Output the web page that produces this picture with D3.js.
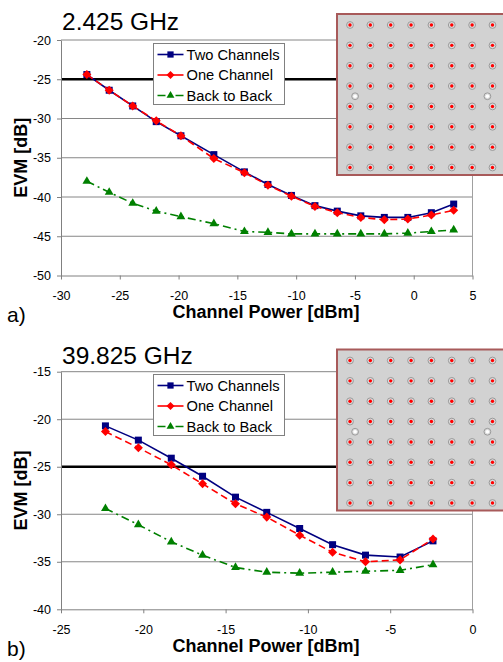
<!DOCTYPE html>
<html>
<head>
<meta charset="utf-8">
<script src="https://cdn.jsdelivr.net/npm/d3@7"></script>
<style>
  body { margin: 0; background: #fff; }
  text { font-family: "Liberation Sans", Arial, sans-serif; }
</style>
</head>
<body>
<script>
// ---- data ----
const seriesNames = ["Two Channels", "One Channel", "Back to Back"];

// a) 2.425 GHz
const powerA  = [-27.8, -25.9, -23.9, -21.9, -19.8, -17.0, -14.4, -12.4, -10.4, -8.4, -6.5, -4.5, -2.5, -0.5, 1.5, 3.4];
const twoChA  = [-24.4, -26.4, -28.4, -30.4, -32.2, -34.6, -36.8, -38.4, -39.8, -41.1, -41.8, -42.4, -42.6, -42.6, -42.0, -40.9];
const oneChA  = [-24.4, -26.4, -28.4, -30.3, -32.2, -35.1, -36.9, -38.5, -39.9, -41.2, -42.0, -42.6, -42.9, -42.8, -42.3, -41.7];
const b2bA    = [-38.0, -39.4, -40.8, -41.8, -42.5, -43.4, -44.4, -44.5, -44.7, -44.7, -44.7, -44.7, -44.7, -44.6, -44.4, -44.2];
const xTicksA = [-30, -25, -20, -15, -10, -5, 0, 5];
const yTicksA = [-50, -45, -40, -35, -30, -25, -20];

// b) 39.825 GHz
const powerB  = [-22.3, -20.3, -18.3, -16.4, -14.4, -12.5, -10.5, -8.5, -6.5, -4.4, -2.4];
const twoChB  = [-20.7, -22.2, -24.1, -26.0, -28.2, -29.8, -31.5, -33.2, -34.3, -34.5, -32.8];
const oneChB  = [-21.3, -23.0, -24.8, -26.8, -28.9, -30.3, -32.2, -34.0, -35.0, -34.8, -32.6];
const b2bB    = [-29.4, -31.1, -32.9, -34.3, -35.6, -36.1, -36.2, -36.1, -36.0, -35.9, -35.3];
const xTicksB = [-25, -20, -15, -10, -5, 0];
const yTicksB = [-40, -35, -30, -25, -20, -15];

const evmLimit = -25;

// 64-QAM constellation inset + pilots
const qamLevels = [-7, -5, -3, -1, 1, 3, 5, 7];
const pilots = [[-6.5, 0], [6.5, 0]];

// ---- drawing ----
const W = 503, H = 662;
const svg = d3.select("body").append("svg")
    .attr("width", W).attr("height", H);

const styles = [
    { color: "#000080", dash: null,      symbol: d3.symbolSquare,   size: 49 },
    { color: "#ff0000", dash: "7,4",     symbol: d3.symbolDiamond2, size: 52 },
    { color: "#008000", dash: "8,4,2,4", symbol: d3.symbolTriangle, size: 34 }
];

function drawPanel(p) {
    const g = svg.append("g");
    const x = d3.scaleLinear().domain(d3.extent(p.xTicks)).range([61, 472.5]);
    const y = d3.scaleLinear().domain(d3.extent(p.yTicks)).range([p.yBottom, p.yTop]);

    // grid
    g.selectAll(".grid").data(p.yTicks.slice(1)).enter().append("line")
        .attr("x1", x.range()[0]).attr("x2", x.range()[1])
        .attr("y1", d => y(d)).attr("y2", d => y(d))
        .attr("stroke", "#868686").attr("stroke-width", 1);
    g.append("line")
        .attr("x1", x.range()[1]).attr("x2", x.range()[1])
        .attr("y1", p.yTop).attr("y2", p.yBottom)
        .attr("stroke", "#a0a0a0");

    // EVM limit
    g.append("line")
        .attr("x1", x.range()[0]).attr("x2", x.range()[1])
        .attr("y1", y(evmLimit)).attr("y2", y(evmLimit))
        .attr("stroke", "#000").attr("stroke-width", 2.5);

    // axes
    const ax = g.append("g").attr("transform", "translate(0," + p.yBottom + ")")
        .call(d3.axisBottom(x).tickValues(p.xTicks).tickFormat(String).tickSize(4).tickPadding(12).tickSizeOuter(0));
    const ay = g.append("g").attr("transform", "translate(61,0)")
        .call(d3.axisLeft(y).tickValues(p.yTicks).tickFormat(String).tickSize(4).tickPadding(6).tickSizeOuter(0));
    [ax, ay].forEach(a => {
        a.select(".domain").attr("stroke", "#808080");
        a.selectAll(".tick line").attr("stroke", "#808080");
        a.selectAll("text").attr("font-size", 12.5).attr("fill", "#000")
            .style("font-family", "'Liberation Sans', Arial, sans-serif");
    });

    // series
    const series = [p.two, p.one, p.b2b];
    series.forEach((vals, i) => {
        const st = styles[i];
        const pts = vals.map((v, j) => [p.power[j], v]);
        g.append("path")
            .attr("d", d3.line().x(d => x(d[0])).y(d => y(d[1]))(pts))
            .attr("fill", "none").attr("stroke", st.color).attr("stroke-width", 1.6)
            .attr("stroke-dasharray", st.dash);
        g.selectAll(".m" + i).data(pts).enter().append("path")
            .attr("transform", d => "translate(" + x(d[0]) + "," + y(d[1]) + ")")
            .attr("d", d3.symbol().type(st.symbol).size(st.size))
            .attr("fill", st.color);
    });

    // legend
    const lg = g.append("g").attr("transform", "translate(153.5," + p.legendTop + ")");
    lg.append("rect").attr("width", 131).attr("height", 61)
        .attr("fill", "#fff").attr("stroke", "#808080").attr("stroke-width", 1);
    seriesNames.forEach((name, i) => {
        const st = styles[i];
        const ly = 11 + i * 20.5;
        lg.append("line").attr("x1", 4).attr("x2", 30).attr("y1", ly).attr("y2", ly)
            .attr("stroke", st.color).attr("stroke-width", 1.6)
            .attr("stroke-dasharray", i === 2 ? "8,4,2,4" : null);
        lg.append("path").attr("transform", "translate(17," + ly + ")")
            .attr("d", d3.symbol().type(st.symbol).size(st.size * 0.8))
            .attr("fill", st.color);
        lg.append("text").attr("x", 33).attr("y", ly).attr("dy", "0.35em")
            .attr("font-size", 14.7).attr("fill", "#000").text(name);
    });

    // constellation inset
    const ig = g.append("g");
    ig.append("rect").attr("x", 337).attr("y", p.insetTop)
        .attr("width", 180).attr("height", 161)
        .attr("fill", "#d2d2d2").attr("stroke", "#a85a5a").attr("stroke-width", 2);
    const cx = d3.scaleLinear().domain([-7, 7]).range([350, 492.5]);
    const cy = d3.scaleLinear().domain([7, -7]).range([p.insetTop + 11, p.insetTop + 153.5]);
    const grid = [];
    qamLevels.forEach(a => qamLevels.forEach(b => grid.push([a, b])));
    ig.selectAll(".ring").data(grid.concat(pilots)).enter().append("circle")
        .attr("cx", d => cx(d[0])).attr("cy", d => cy(d[1])).attr("r", 3.4)
        .attr("fill", "#dcdcdc").attr("stroke", "#9a9a9a").attr("stroke-width", 1);
    ig.selectAll(".dot").data(grid).enter().append("circle")
        .attr("cx", d => cx(d[0])).attr("cy", d => cy(d[1])).attr("r", 1.7)
        .attr("fill", "#ff0000");
    ig.selectAll(".pilot").data(pilots).enter().append("circle")
        .attr("cx", d => cx(d[0])).attr("cy", d => cy(d[1])).attr("r", 1.8)
        .attr("fill", "#fff");

    // titles
    g.append("text").attr("x", 62).attr("y", p.titleY)
        .attr("font-size", 24.5).attr("fill", "#000").text(p.title);
    g.append("text").attr("x", 266).attr("y", p.yBottom + 42.5)
        .attr("text-anchor", "middle").attr("font-size", 18).attr("font-weight", "bold")
        .text("Channel Power [dBm]");
    g.append("text")
        .attr("transform", "translate(27," + (p.yTop + p.yBottom) / 2 + ") rotate(-90)")
        .attr("text-anchor", "middle").attr("font-size", 18).attr("font-weight", "bold")
        .text("EVM [dB]");
    g.append("text").attr("x", 7).attr("y", p.yBottom + 46.5)
        .attr("font-size", 21).text(p.tag);
}

drawPanel({
    title: "2.425 GHz", tag: "a)", titleY: 30,
    power: powerA, two: twoChA, one: oneChA, b2b: b2bA,
    xTicks: xTicksA, yTicks: yTicksA,
    yTop: 40, yBottom: 275.5, legendTop: 43.5, insetTop: 14
});
drawPanel({
    title: "39.825 GHz", tag: "b)", titleY: 363.5,
    power: powerB, two: twoChB, one: oneChB, b2b: b2bB,
    xTicks: xTicksB, yTicks: yTicksB,
    yTop: 371.7, yBottom: 609.3, legendTop: 374.5, insetTop: 349.5
});
</script>
</body>
</html>
